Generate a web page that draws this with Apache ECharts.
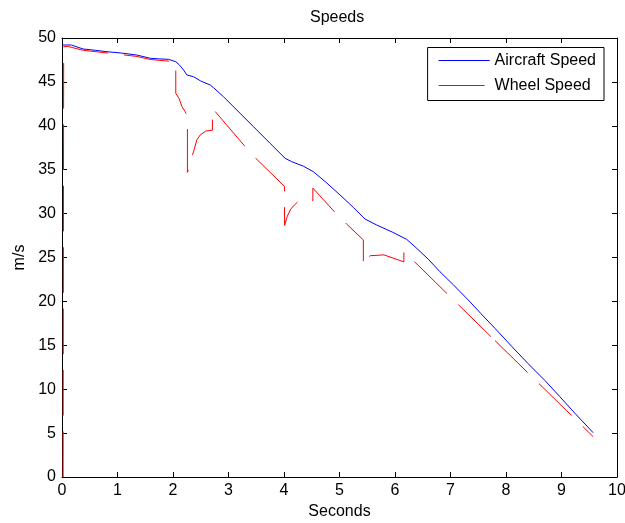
<!DOCTYPE html>
<html><head><meta charset="utf-8">
<script src="https://cdn.jsdelivr.net/npm/echarts@6/dist/echarts.min.js"></script>
<style>html,body{margin:0;padding:0;background:#fff}#c{width:625px;height:523px}</style>
</head><body><div id="c"></div>
<script>
const titleText = 'Speeds';
const xName = 'Seconds';
const yName = 'm/s';
const seriesNames = ['Aircraft Speed', 'Wheel Speed'];
const xRange = [0, 10, 1];
const yRange = [0, 50, 5];

const aircraftT = [0, 0.17, 0.38, 0.6, 0.81, 1.05, 1.35, 1.59, 1.75, 1.92, 2.05, 2.12, 2.19, 2.25, 2.37, 2.5, 2.67, 2.73, 2.91, 3.45, 3.75, 4.02, 4.14, 4.35, 4.53, 4.75, 5.01, 5.25, 5.46, 5.67, 5.95, 6.21, 6.36, 6.6, 6.81, 7.05, 7.32, 7.55, 7.8, 8.1, 8.4, 8.7, 8.97, 9.25, 9.57];
const aircraftV = [49.2, 49.2, 48.75, 48.6, 48.44, 48.3, 48.06, 47.69, 47.62, 47.57, 47.3, 46.9, 46.36, 45.79, 45.59, 45.1, 44.65, 44.34, 43.31, 39.9, 38.0, 36.3, 35.91, 35.4, 34.77, 33.6, 32.12, 30.7, 29.38, 28.7, 27.9, 27.07, 26.23, 24.8, 23.38, 21.9, 20.16, 18.6, 16.94, 14.9, 12.9, 11.0, 9.15, 7.2, 5.05];

const wheelT = [0.02, 0.03, 0.1, 0.38, 0.81, 1.35, 1.59, 1.86, 2.05, 2.05, 2.11, 2.16, 2.22, 2.26, 2.26, 2.31, 2.35, 2.37, 2.43, 2.49, 2.59, 2.71, 2.71, 3.29, 3.49, 4.01, 4.01, 4.06, 4.12, 4.19, 4.26, 4.4, 4.52, 4.52, 4.91, 5.13, 5.43, 5.43, 5.55, 5.8, 6.16, 6.16, 7.75, 7.76, 7.79, 9.57];
const wheelV = [0, 49.0, 49.05, 48.6, 48.3, 47.9, 47.55, 47.4, 47.3, 43.7, 43.1, 42.2, 41.6, 41.1, 34.7, 35.6, 36.7, 37.05, 38.4, 38.95, 39.4, 39.5, 42.0, 37.7, 36.3, 33.1, 28.65, 29.7, 30.5, 31.0, 31.4, 31.8, 31.5, 32.9, 30.2, 28.8, 27.0, 24.05, 25.2, 25.3, 24.5, 25.7, 15.86, 15.0, 15.61, 4.6];

const FONT = '"Liberation Sans", Arial, Helvetica, sans-serif';
const pairs = (t, v) => t.map((x, i) => [x, v[i]]);

const axisCommon = {
  type: 'value',
  axisLine: { show: true, onZero: false, lineStyle: { color: '#000', width: 1 } },
  axisTick: { show: true, inside: true, length: 5, lineStyle: { color: '#000', width: 1 } },
  splitLine: { show: false },
  axisLabel: { color: '#000', fontSize: 16, fontFamily: FONT, margin: 6 }
};

const chart = echarts.init(document.getElementById('c'), null, { renderer: 'canvas' });
chart.setOption({
  animation: false,
  backgroundColor: '#fff',
  title: {
    text: titleText, left: 310, top: 10, padding: 0,
    textStyle: { fontSize: 16, fontWeight: 'normal', color: '#000', fontFamily: FONT }
  },
  grid: { left: 62, right: 8, top: 38, bottom: 46, containLabel: false, outerBoundsMode: 'none' },
  legend: {
    orient: 'vertical', right: 21, top: 47.5,
    itemWidth: 51, itemHeight: 14, itemGap: 5,
    padding: [3, 8, 5, 11],
    borderColor: '#000', borderWidth: 1, backgroundColor: '#fff',
    itemStyle: { borderWidth: 0 },
    textStyle: { fontSize: 16, color: '#000', fontFamily: FONT, lineHeight: 20 },
    data: [
      { name: seriesNames[0], icon: 'path://M0,0H51V1H0Z' },
      { name: seriesNames[1], icon: 'path://M0,0H46V1H0ZM50.95,0H51V1H50.95Z' }
    ]
  },
  xAxis: [
    Object.assign({}, axisCommon, {
      min: xRange[0], max: xRange[1], interval: xRange[2], position: 'bottom',
      name: xName, nameLocation: 'middle', nameGap: 27,
      nameTextStyle: { fontSize: 16, color: '#000', fontFamily: FONT }
    }),
    Object.assign({}, axisCommon, {
      min: xRange[0], max: xRange[1], interval: xRange[2], position: 'top',
      axisLabel: { show: false }
    })
  ],
  yAxis: [
    Object.assign({}, axisCommon, {
      min: yRange[0], max: yRange[1], interval: yRange[2], position: 'left',
      name: yName, nameLocation: 'middle', nameGap: 33, nameRotate: 90,
      nameTextStyle: { fontSize: 16, color: '#000', fontFamily: FONT }
    }),
    Object.assign({}, axisCommon, {
      min: yRange[0], max: yRange[1], interval: yRange[2], position: 'right',
      axisLabel: { show: false }
    })
  ],
  series: [
    {
      name: seriesNames[0], type: 'line', xAxisIndex: 0, yAxisIndex: 0,
      data: pairs(aircraftT, aircraftV), symbol: 'none', showSymbol: false,
      lineStyle: { color: '#0000ff', width: 1 }, itemStyle: { color: '#0000ff' }
    },
    {
      name: seriesNames[1], type: 'line', xAxisIndex: 0, yAxisIndex: 0,
      data: pairs(wheelT, wheelV), symbol: 'none', showSymbol: false,
      lineStyle: { color: '#ff0000', width: 1, type: [45.6, 15.8], dashOffset: 0 },
      itemStyle: { color: '#ff0000' }
    }
  ]
});
</script>
</body></html>
